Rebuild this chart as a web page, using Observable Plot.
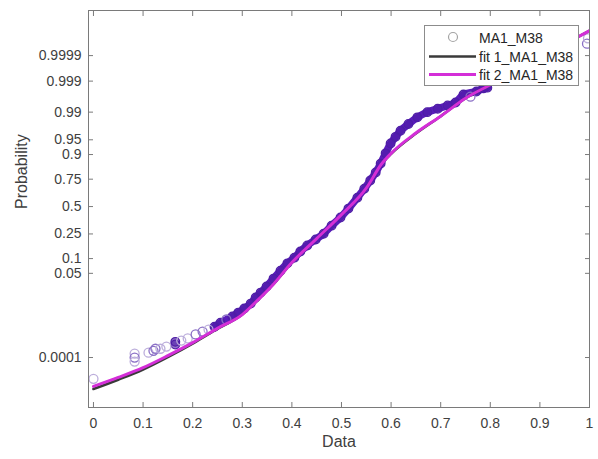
<!DOCTYPE html>
<html><head><meta charset="utf-8">
<script src="https://cdn.jsdelivr.net/npm/d3@7"></script>
<script src="https://cdn.jsdelivr.net/npm/@observablehq/plot@0.6"></script>
<style>
body{margin:0;background:#fff;font-family:"Liberation Sans",Arial,sans-serif}
#wrap{position:relative;width:598px;height:459px}
#legend{position:absolute;left:424px;top:25px;width:153px;height:59px;border:1px solid #8c8c8c;background:#fff}
</style>
</head><body><div id="wrap"><div id="chart"></div><div id="legend"></div></div>
<script>
// ---- data ----
const dataX = [0.0, 0.083, 0.083, 0.083, 0.111, 0.121, 0.125, 0.135, 0.147, 0.165, 0.165, 0.177, 0.190, 0.206, 0.220, 0.232, 0.244, 0.256, 0.268, 0.280, 0.292, 0.304, 0.317, 0.327, 0.337, 0.349, 0.363, 0.377, 0.391, 0.405, 0.417, 0.431, 0.448, 0.464, 0.480, 0.498, 0.514, 0.532, 0.546, 0.558, 0.569, 0.579, 0.589, 0.599, 0.609, 0.619, 0.635, 0.653, 0.673, 0.694, 0.714, 0.730, 0.746, 0.760, 0.772, 0.786, 0.794, 0.995, 0.997];
const dataP = [1.1e-5, 1.47e-4, 1.0e-4, 6.7e-5, 1.6e-4, 1.9e-4, 2.3e-4, 2.3e-4, 2.8e-4, 4.3e-4, 3.4e-4, 4.8e-4, 5.8e-4, 8.2e-4, 1.04e-3, 1.22e-3, 1.54e-3, 2.1e-3, 2.7e-3, 3.4e-3, 4.5e-3, 6.0e-3, 8.4e-3, 0.0125, 0.017, 0.0244, 0.038, 0.057, 0.081, 0.104, 0.134, 0.169, 0.209, 0.252, 0.319, 0.394, 0.48, 0.587, 0.67, 0.739, 0.80, 0.855, 0.905, 0.94, 0.957, 0.969, 0.979, 0.986, 0.990, 0.992, 0.9936, 0.9948, 0.9971, 0.9966, 0.9977, 0.9982, 0.9983, 0.99997, 0.999983];
const dataShade = ["l","l","m","l","l","m","m","l","l","d","d","l","l","m","m","l","d","d","m","d","d","d","d","d","d","d","d","d","d","d","d","d","d","d","d","d","d","d","d","d","d","d","d","d","d","d","d","d","d","d","d","d","d","m","d","d","d","m","l"];

const fitX  = [0.0, 0.05, 0.1, 0.15, 0.2, 0.25, 0.3, 0.33, 0.36, 0.4, 0.45, 0.5, 0.55, 0.58, 0.6, 0.65, 0.7, 0.75, 0.8, 0.9, 1.0];
const fit1P = [3.5e-6, 1.0e-5, 3.0e-5, 1.05e-4, 3.7e-4, 1.3e-3, 3.9e-3, 0.0102, 0.0256, 0.084, 0.215, 0.421, 0.675, 0.85, 0.903, 0.964, 0.987, 0.9962, 0.99865, 0.99988, 0.9999926];
const fit2P = [4.7e-6, 1.28e-5, 3.6e-5, 1.2e-4, 4.0e-4, 1.35e-3, 3.9e-3, 0.0102, 0.0256, 0.084, 0.215, 0.421, 0.675, 0.85, 0.905, 0.965, 0.987, 0.9962, 0.99865, 0.99988, 0.9999926];

const xTicks = [0, 0.1, 0.2, 0.3, 0.4, 0.5, 0.6, 0.7, 0.8, 0.9, 1];
const yTickValues = [0.0001, 0.05, 0.1, 0.25, 0.5, 0.75, 0.9, 0.95, 0.99, 0.999, 0.9999];
const yTickLabels = ["0.0001", "0.05", "0.1", "0.25", "0.5", "0.75", "0.9", "0.95", "0.99", "0.999", "0.9999"];
const legendLabels = ["MA1_M38", "fit 1_MA1_M38", "fit 2_MA1_M38"];

// inverse normal CDF (probability-paper scale)
function probit(p){
  const a=[-3.969683028665376e+01,2.209460984245205e+02,-2.759285104469687e+02,1.383577518672690e+02,-3.066479806614716e+01,2.506628277459239e+00];
  const b=[-5.447609879822406e+01,1.615858368580409e+02,-1.556989798598866e+02,6.680131188771972e+01,-1.328068155288572e+01];
  const c=[-7.784894002430293e-03,-3.223964580411365e-01,-2.400758277161838e+00,-2.549732539343734e+00,4.374664141464968e+00,2.938163982698783e+00];
  const d=[7.784695709041462e-03,3.224671290700398e-01,2.445134137142996e+00,3.754408661907416e+00];
  const pl=0.02425, ph=1-pl; let q,r;
  if(p<pl){q=Math.sqrt(-2*Math.log(p));return (((((c[0]*q+c[1])*q+c[2])*q+c[3])*q+c[4])*q+c[5])/((((d[0]*q+d[1])*q+d[2])*q+d[3])*q+1);}
  if(p<=ph){q=p-0.5;r=q*q;return (((((a[0]*r+a[1])*r+a[2])*r+a[3])*r+a[4])*r+a[5])*q/(((((b[0]*r+b[1])*r+b[2])*r+b[3])*r+b[4])*r+1);}
  q=Math.sqrt(-2*Math.log(1-p));return -(((((c[0]*q+c[1])*q+c[2])*q+c[3])*q+c[4])*q+c[5])/((((d[0]*q+d[1])*q+d[2])*q+d[3])*q+1);
}

const points = dataX.map((x,i)=>({x, z: probit(dataP[i]), shade: dataShade[i]}));
const dense = points.filter(d => d.shade === "d" && d.x > 0.24 && d.x < 0.8);
const fit1 = fitX.map((x,i)=>({x, z: probit(fit1P[i])}));
const fit2 = fitX.map((x,i)=>({x, z: probit(fit2P[i])}));
const yTicksZ = yTickValues.map(probit);
const yFmt = d => { const i = yTicksZ.findIndex(t => Math.abs(t-d) < 1e-9); return i >= 0 ? yTickLabels[i] : ""; };

const boxColor = "#7a7a7a", textColor = "#404040";
const chart = Plot.plot({
  width: 598, height: 459,
  marginLeft: 88, marginRight: 9, marginTop: 10, marginBottom: 52,
  x: {domain: [-0.01, 1.0]},
  y: {domain: [-4.95, 4.83]},
  color: {domain: ["l","m","d"], range: ["#bcaedb", "#8b70c6", "#4e1da6"]},
  style: {fontFamily: "Liberation Sans, Arial, sans-serif", fontSize: "14px", color: textColor, background: "white", overflow: "visible"},
  marks: [
    // overlapping markers of the dense part form a solid band
    Plot.line(dense, {x: "x", y: "z", stroke: "#5a1cbc", strokeWidth: 7.5, curve: "monotone-x", strokeLinecap: "round"}),
    Plot.dot(points.filter(d => d.shade === "d"), {x: "x", y: "z", r: 4.3, fill: "shade", fillOpacity: 0.6, stroke: "shade", strokeWidth: 1.3, clip: true}),
    Plot.dot(points.filter(d => d.shade !== "d"), {x: "x", y: "z", r: 4.5, stroke: "shade", strokeWidth: 1.3, fill: "none", clip: true}),
    Plot.line(fit1, {x: "x", y: "z", stroke: "#3a3a3a", strokeWidth: 2.6, curve: "monotone-x", clip: true}),
    Plot.line(fit2, {x: "x", y: "z", stroke: "#d42ed8", strokeWidth: 3, curve: "monotone-x", clip: true}),
    Plot.frame({stroke: boxColor}),
    Plot.axisX({ticks: xTicks, tickSize: -5, fill: "none", stroke: boxColor, label: null}),
    Plot.axisX({anchor: "top", ticks: xTicks, tickSize: -5, fill: "none", stroke: boxColor, label: null}),
    Plot.axisX({ticks: xTicks, tickSize: 0, tickPadding: 11, tickFormat: d => String(d), fill: textColor, label: null}),
    Plot.axisY({ticks: yTicksZ, tickSize: -5, fill: "none", stroke: boxColor, label: null}),
    Plot.axisY({anchor: "right", ticks: yTicksZ, tickSize: -5, fill: "none", stroke: boxColor, label: null}),
    Plot.axisY({ticks: yTicksZ, tickSize: 0, tickPadding: 7, tickFormat: yFmt, fill: textColor, label: null}),
    Plot.text(["Probability"], {frameAnchor: "left", rotate: -90, dx: -67, fontSize: 16, fill: textColor}),
    Plot.text(["Data"], {frameAnchor: "bottom", dy: 39, fontSize: 16, fill: textColor})
  ]
});
document.getElementById("chart").appendChild(chart);

// legend
const lg = d3.select("#legend").append("svg").attr("width", 153).attr("height", 59)
  .style("font-family", "Liberation Sans, Arial, sans-serif");
lg.append("circle").attr("cx", 28).attr("cy", 11).attr("r", 4.5).attr("fill", "none").attr("stroke", "#a4a4a4").attr("stroke-width", 1.2);
lg.append("line").attr("x1", 4).attr("x2", 51).attr("y1", 30.5).attr("y2", 30.5).attr("stroke", "#3a3a3a").attr("stroke-width", 2.6);
lg.append("line").attr("x1", 4).attr("x2", 51).attr("y1", 48.5).attr("y2", 48.5).attr("stroke", "#d42ed8").attr("stroke-width", 3);
[12, 31, 49].forEach((y, i) => {
  lg.append("text").attr("x", 54).attr("y", y).attr("dy", "0.35em").attr("font-size", 14).attr("fill", "#262626").text(legendLabels[i]);
});
</script>
</body></html>
